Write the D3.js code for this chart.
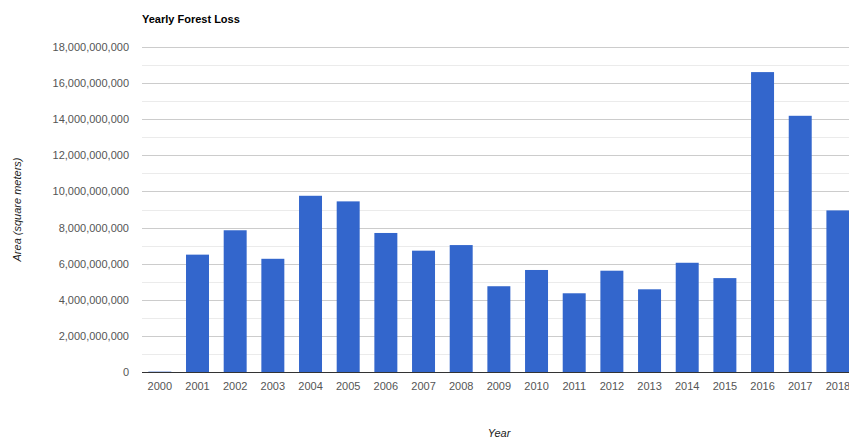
<!DOCTYPE html>
<html>
<head>
<meta charset="utf-8">
<script src="https://cdn.jsdelivr.net/npm/d3@7"></script>
<style>
  html, body { margin: 0; padding: 0; background: #fff; }
  svg { display: block; font-family: "Liberation Sans", Arial, sans-serif; }
</style>
</head>
<body>
<svg id="chart" width="849" height="439"></svg>
<script>
// Yearly forest loss, square meters
const years = ["2000","2001","2002","2003","2004","2005","2006","2007","2008","2009",
               "2010","2011","2012","2013","2014","2015","2016","2017","2018"];
const lossArea = [20000000, 6500000000, 7850000000, 6270000000, 9760000000, 9450000000,
                  7700000000, 6720000000, 7030000000, 4750000000, 5650000000, 4360000000,
                  5610000000, 4580000000, 6050000000, 5200000000, 16610000000, 14190000000,
                  8950000000];
const yTicks = [0, 2e9, 4e9, 6e9, 8e9, 10e9, 12e9, 14e9, 16e9, 18e9];
const yMinorTicks = [1e9, 3e9, 5e9, 7e9, 9e9, 11e9, 13e9, 15e9, 17e9];

const svg = d3.select("#chart");
const W = 849, H = 439;
const plotLeft = 142, plotTop = 47, plotBottom = 372;
const bandStep = 37.67;
const bandStart = plotLeft - 1;
const bandEnd = bandStart + bandStep * years.length;
const labelFont = "'Liberation Sans', Arial, sans-serif";

const x = d3.scaleBand().domain(years).range([bandStart, bandEnd]).paddingInner(0.39).paddingOuter(0.195);
const y = d3.scaleLinear().domain([0, 18e9]).range([plotBottom, plotTop]);

// minor grid
svg.append("g").selectAll("line").data(yMinorTicks).join("line")
  .attr("x1", plotLeft).attr("x2", W)
  .attr("y1", d => Math.round(y(d)) + 0.5).attr("y2", d => Math.round(y(d)) + 0.5)
  .attr("stroke", "#ebebeb").attr("stroke-width", 1);

// major grid
svg.append("g").selectAll("line").data(yTicks.filter(d => d > 0)).join("line")
  .attr("x1", plotLeft).attr("x2", W)
  .attr("y1", d => Math.round(y(d)) + 0.5).attr("y2", d => Math.round(y(d)) + 0.5)
  .attr("stroke", "#cccccc").attr("stroke-width", 1);

// bars
svg.append("g").selectAll("rect").data(years).join("rect")
  .attr("x", d => x(d))
  .attr("width", x.bandwidth())
  .attr("y", (d, i) => y(lossArea[i]))
  .attr("height", (d, i) => plotBottom - y(lossArea[i]))
  .attr("fill", "#3366cc");

// baseline
svg.append("line")
  .attr("x1", plotLeft).attr("x2", W)
  .attr("y1", plotBottom + 0.5).attr("y2", plotBottom + 0.5)
  .attr("stroke", "#333333").attr("stroke-width", 1);

// y axis labels
const fmt = d3.format(",");
const yAxis = d3.axisLeft(y).tickValues(yTicks).tickFormat(fmt).tickSize(0).tickPadding(0);
const yg = svg.append("g").attr("transform", `translate(${plotLeft - 13},0)`).call(yAxis);
yg.select(".domain").remove();
yg.selectAll("text").attr("font-size", 11).attr("fill", "#555").attr("font-family", labelFont);

// x axis labels
const xAxis = d3.axisBottom(x).tickSize(0).tickPadding(0);
const xg = svg.append("g").attr("transform", `translate(0,${plotBottom + 10})`).call(xAxis);
xg.select(".domain").remove();
xg.selectAll("text").attr("font-size", 11).attr("fill", "#555").attr("font-family", labelFont);

// title
svg.append("text").attr("x", plotLeft).attr("y", 23)
  .attr("font-size", 11).attr("font-weight", "bold").attr("fill", "#000")
  .text("Yearly Forest Loss");

// axis titles
svg.append("text").attr("x", 499).attr("y", 437)
  .attr("text-anchor", "middle").attr("font-size", 11).attr("font-style", "italic").attr("fill", "#222")
  .text("Year");
svg.append("text")
  .attr("transform", `translate(21,${(plotTop + plotBottom) / 2}) rotate(-90)`)
  .attr("text-anchor", "middle").attr("font-size", 11).attr("font-style", "italic").attr("fill", "#222")
  .text("Area (square meters)");
</script>
</body>
</html>
